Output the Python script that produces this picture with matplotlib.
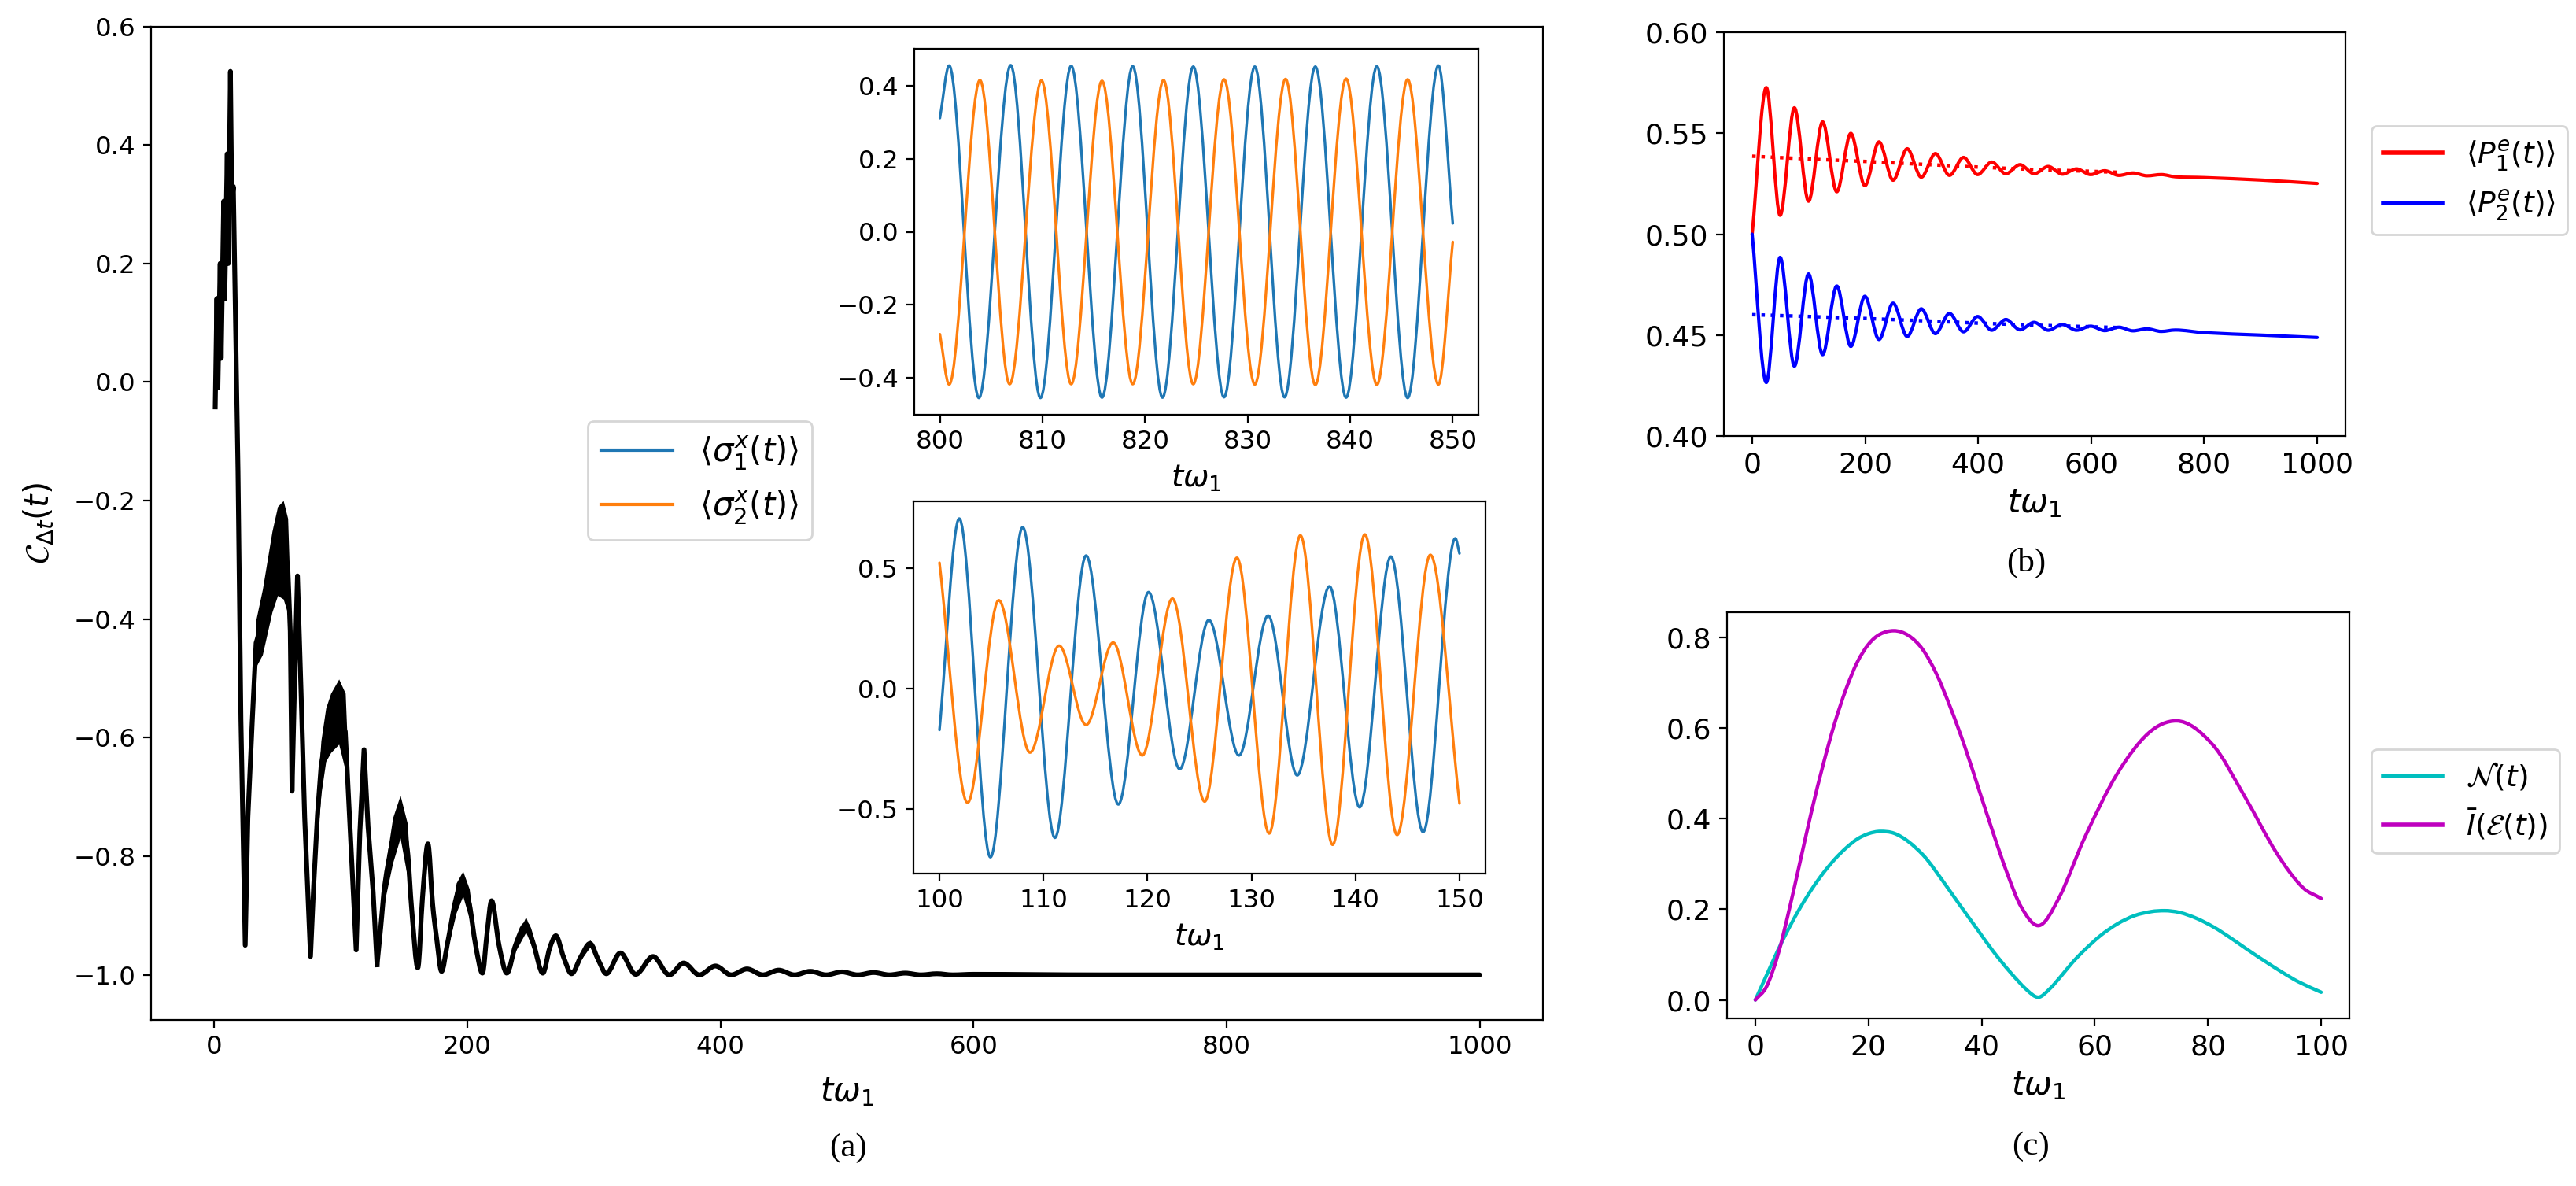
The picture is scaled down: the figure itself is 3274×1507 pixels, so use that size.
import numpy as np
import matplotlib
matplotlib.use("Agg")
import matplotlib.pyplot as plt
from matplotlib.path import Path
from matplotlib.patches import PathPatch
from matplotlib.lines import Line2D

# ---------------- (a) main curve C_dt(t) ----------------
# centre of the trace and half-width of the fast-wiggle band
c_t = [0.7, 2.0, 2.8, 4.6, 5.4, 7.4, 8.2, 10.2, 11.0, 12.7, 13.8, 15.0, 18.7, 21.0, 24.4,
       26.5, 30.0, 33.0, 38.0, 45.6, 50.0, 54.5, 58.0, 60.0, 61.4, 63.5, 65.7, 68.5, 71.4, 76.0,
       78.5, 81.5, 84.3, 88.1, 92.0, 98.4, 103.5, 107.0, 112.1, 115.0, 118.3, 121.5, 125.5, 128.6,
       131.5, 134.6, 141.0, 146.9, 152.6, 156.0, 160.8, 164.5, 168.8, 172.5, 175.8, 179.6,
       184.0, 191.2, 196.4, 201.5, 206.5, 211.9, 215.5, 219.1, 225.0, 231.2,
       238.0, 246.2, 252.5, 259.6, 265.0, 269.9, 276.0, 282.3, 289.5, 296.9, 303.5, 309.8,
       320.9, 333.0, 346.7, 359.6, 370.9, 383.3, 396.0, 408.5, 421.0, 433.5, 446.0, 458.5,
       471.0, 483.5, 496.0, 508.5, 521.0, 533.5, 546.0, 558.5, 571.0, 583.5, 600.0, 700.0, 1000.0]
c_mid = [-0.042, 0.141, -0.010, 0.200, 0.040, 0.305, 0.140, 0.385, 0.200, 0.524, 0.300, 0.330, -0.150, -0.570, -0.950,
         -0.735, -0.570, -0.440, -0.405, -0.320, -0.285, -0.283, -0.310, -0.420, -0.690, -0.500, -0.327, -0.520, -0.735, -0.969,
         -0.850, -0.730, -0.650, -0.595, -0.575, -0.556, -0.590, -0.740, -0.958, -0.760, -0.620, -0.750, -0.860, -0.983,
         -0.920, -0.850, -0.773, -0.733, -0.790, -0.890, -0.988, -0.870, -0.779, -0.880, -0.940, -0.994,
         -0.950, -0.870, -0.846, -0.880, -0.950, -0.997, -0.930, -0.875, -0.950, -0.997,
         -0.950, -0.915, -0.950, -0.997, -0.955, -0.934, -0.970, -0.998, -0.970, -0.947, -0.975, -0.998,
         -0.963, -0.999, -0.969, -1.000, -0.980, -1.000, -0.985, -1.000, -0.990, -1.000, -0.992, -1.000,
         -0.994, -1.000, -0.995, -1.000, -0.996, -1.000, -0.997, -1.000, -0.998, -1.000, -0.999, -1.000, -1.000]
c_half = [0, 0, 0, 0, 0, 0, 0, 0, 0, 0, 0, 0, 0, 0, 0,
          0.050, 0.045, 0.040, 0.055, 0.068, 0.075, 0.083, 0.080, 0.060, 0, 0.020, 0, 0.015, 0.010, 0,
          0.020, 0.040, 0.045, 0.045, 0.050, 0.055, 0.065, 0.030, 0, 0.010, 0, 0.010, 0.010, 0,
          0.010, 0.025, 0.038, 0.036, 0.045, 0.020, 0, 0.010, 0, 0.010, 0.005, 0,
          0.010, 0.025, 0.021, 0.025, 0.010, 0, 0.005, 0, 0.005, 0,
          0.010, 0.013, 0.010, 0, 0.003, 0, 0.003, 0, 0.005, 0.006, 0.004, 0,
          0, 0, 0.003, 0, 0, 0, 0, 0, 0, 0, 0, 0,
          0, 0, 0, 0, 0, 0, 0, 0, 0, 0, 0, 0, 0]

# top inset: extrema of <sigma_x(t)> for t in [800, 850]
s1_late_t = [800.0, 800.9, 803.8, 806.9, 809.8, 812.8, 815.8, 818.8, 821.7, 824.7, 827.7,
             830.7, 833.6, 836.6, 839.6, 842.6, 845.6, 848.6, 850.0]
s1_late_v = [0.312, 0.456, -0.456, 0.457, -0.456, 0.455, -0.455, 0.454, -0.455, 0.453, -0.454,
             0.453, -0.454, 0.453, -0.455, 0.454, -0.456, 0.456, 0.023]
s2_late_t = [800.0, 800.9, 803.9, 806.8, 809.9, 812.8, 815.8, 818.8, 821.8, 824.7, 827.7,
             830.7, 833.7, 836.6, 839.6, 842.6, 845.6, 848.6, 850.0]
s2_late_v = [-0.281, -0.419, 0.416, -0.418, 0.415, -0.418, 0.414, -0.418, 0.416, -0.418, 0.418,
             -0.419, 0.419, -0.420, 0.420, -0.420, 0.418, -0.419, -0.028]

# bottom inset: extrema for t in [100, 150]
s1_early_t = [100.0, 101.9, 104.9, 108.0, 111.1, 114.1, 117.2, 120.1, 123.1, 125.9, 128.8,
              131.6, 134.4, 137.5, 140.4, 143.4, 146.5, 149.6, 150.0]
s1_early_v = [-0.172, 0.708, -0.702, 0.672, -0.621, 0.554, -0.482, 0.402, -0.335, 0.286, -0.278,
              0.304, -0.361, 0.426, -0.494, 0.550, -0.597, 0.626, 0.563]
s2_early_t = [100.0, 102.7, 105.7, 108.7, 111.5, 114.1, 116.7, 119.5, 122.4, 125.5, 128.6,
              131.7, 134.7, 137.8, 140.9, 144.0, 147.2, 150.0]
s2_early_v = [0.524, -0.475, 0.368, -0.266, 0.179, -0.151, 0.192, -0.278, 0.375, -0.470, 0.545,
              -0.603, 0.638, -0.650, 0.642, -0.609, 0.557, -0.478]

# ---------------- (b) excited-state populations ----------------
p_t = [0, 25.0, 49.5, 74.8, 99.8, 124.7, 149.7, 174.6, 199.5, 224.5, 249.4, 274.4, 299.3, 324.3,
       349.2, 374.1, 399.0, 424.0, 449.0, 474.0, 499.0, 524.0, 549.0, 574.0, 599.0, 624.0, 649.0,
       674.0, 699.0, 724.0, 749.0, 800.0, 900.0, 1000.0]
p1_v = [0.500, 0.5726, 0.5093, 0.5626, 0.5163, 0.5556, 0.5210, 0.5499, 0.5240, 0.5457, 0.5267,
        0.5423, 0.5282, 0.5399, 0.5291, 0.5380, 0.5295, 0.5357, 0.5299, 0.5344, 0.5299, 0.5335,
        0.5297, 0.5323, 0.5295, 0.5314, 0.5291, 0.5303, 0.5289, 0.5295, 0.5284, 0.5280, 0.5268, 0.5251]
p2_v = [0.500, 0.4265, 0.4885, 0.4346, 0.4803, 0.4403, 0.4743, 0.4444, 0.4692, 0.4478, 0.4658,
        0.4493, 0.4630, 0.4507, 0.4607, 0.4516, 0.4592, 0.4524, 0.4577, 0.4526, 0.4563, 0.4524,
        0.4552, 0.4524, 0.4544, 0.4522, 0.4539, 0.4521, 0.4531, 0.4518, 0.4525, 0.4512, 0.4500, 0.4488]
avg_t = [0, 100, 200, 300, 400, 500, 600, 650]
p1_avg = [0.5386, 0.5372, 0.5360, 0.5346, 0.5332, 0.5320, 0.5311, 0.5306]
p2_avg = [0.4601, 0.4592, 0.4582, 0.4571, 0.4559, 0.4549, 0.4541, 0.4537]

# ---------------- (c) negativity and mutual information ----------------
neg_t = [0, 2, 4, 6, 8, 10, 12, 14, 16, 18, 20, 22.1, 24.5, 27, 30, 33, 36, 39, 42, 45, 48, 50,
         52, 54, 56, 58, 61, 64, 67, 70, 72.3, 75, 78, 81, 84, 87, 90, 93, 96, 100]
neg_v = [0, 0.055, 0.110, 0.160, 0.205, 0.245, 0.280, 0.310, 0.335, 0.355, 0.367, 0.372, 0.368,
         0.350, 0.315, 0.265, 0.212, 0.160, 0.108, 0.062, 0.022, 0.006, 0.024, 0.052, 0.082, 0.108,
         0.142, 0.168, 0.186, 0.195, 0.197, 0.193, 0.180, 0.161, 0.137, 0.111, 0.086, 0.062, 0.040, 0.017]
mi_t = [0, 2, 4, 6, 8, 10, 12, 14, 16, 18, 20, 22, 24.5, 27, 29.5, 32, 34.5, 37, 39.5, 42, 44.5,
        47, 50, 53.7, 58.2, 63.9, 69.5, 74.4, 80.8, 86.5, 92.1, 96.6, 100]
mi_v = [0, 0.030, 0.100, 0.200, 0.310, 0.420, 0.520, 0.610, 0.685, 0.745, 0.785, 0.807, 0.815,
        0.805, 0.775, 0.720, 0.645, 0.560, 0.465, 0.370, 0.280, 0.205, 0.164, 0.226, 0.358, 0.498,
        0.589, 0.616, 0.564, 0.449, 0.325, 0.250, 0.224]


def smooth_path(x, y):
    """Cubic Bezier path through the given points (horizontal tangent at extrema)."""
    x = np.asarray(x, float)
    y = np.asarray(y, float)
    n = len(x)
    m = np.zeros(n)
    for i in range(n):
        if i == 0:
            m[i] = (y[1] - y[0]) / (x[1] - x[0])
        elif i == n - 1:
            m[i] = (y[-1] - y[-2]) / (x[-1] - x[-2])
        elif (y[i] - y[i - 1]) * (y[i + 1] - y[i]) <= 0:
            m[i] = 0.0
        else:
            m[i] = (y[i + 1] - y[i - 1]) / (x[i + 1] - x[i - 1])
    verts = [(x[0], y[0])]
    codes = [Path.MOVETO]
    for i in range(n - 1):
        h = (x[i + 1] - x[i]) / 3.0
        verts += [(x[i] + h, y[i] + m[i] * h), (x[i + 1] - h, y[i + 1] - m[i + 1] * h), (x[i + 1], y[i + 1])]
        codes += [Path.CURVE4] * 3
    return Path(verts, codes)


def draw_curve(ax, x, y, color, lw, ls='-'):
    ax.add_patch(PathPatch(smooth_path(x, y), facecolor='none', edgecolor=color, lw=lw,
                           linestyle=ls, joinstyle='round', capstyle='round'))


plt.rcParams['font.family'] = ['DejaVu Sans']
plt.rcParams['mathtext.fontset'] = 'dejavusans'

W, H = 3274, 1507
fig = plt.figure(figsize=(W / 200, H / 200), dpi=200)


def rect(x0, y0, x1, y1):
    return [x0 / W, 1 - y1 / H, (x1 - x0) / W, (y1 - y0) / H]


# ---- (a)
ax = fig.add_axes(rect(192, 33.5, 1961, 1296))
c_mid_arr = np.array(c_mid)
c_half_arr = np.array(c_half)
ax.fill_between(c_t, c_mid_arr - c_half_arr, c_mid_arr + c_half_arr, color='k', lw=0)
k = c_t.index(128.6)
ax.plot(c_t[:k + 1], c_mid[:k + 1], color='k', lw=2.2)
draw_curve(ax, c_t[k:], c_mid[k:], 'k', 2.2)
ax.set_xlim(-50, 1050)
ax.set_ylim(-1.076, 0.600)
ax.set_xticks(np.arange(0, 1001, 200))
ax.set_yticks(np.arange(-1.0, 0.61, 0.2))
ax.tick_params(labelsize=11.7)
ax.set_xlabel(r'$t\omega_1$', fontsize=15, labelpad=7)
ax.set_ylabel(r'$\mathcal{C}_{\Delta t}(t)$', fontsize=15, labelpad=8)
handles = [Line2D([], [], color='tab:blue', lw=1.5), Line2D([], [], color='tab:orange', lw=1.5)]
ax.legend(handles, [r'$\langle\sigma_1^x(t)\rangle$', r'$\langle\sigma_2^x(t)\rangle$'],
          loc='center left', bbox_to_anchor=(0.302, 0.543), fontsize=15, handlelength=2.2)

# top inset
ins1 = fig.add_axes(rect(1162, 62, 1879, 527))
draw_curve(ins1, s1_late_t, s1_late_v, 'tab:blue', 1.2)
draw_curve(ins1, s2_late_t, s2_late_v, 'tab:orange', 1.2)
ins1.set_xlim(797.5, 852.5)
ins1.set_ylim(-0.502, 0.502)
ins1.set_xticks(np.arange(800, 851, 10))
ins1.set_yticks([-0.4, -0.2, 0.0, 0.2, 0.4])
ins1.tick_params(labelsize=11.7)
ins1.set_xlabel(r'$t\omega_1$', fontsize=14)

# bottom inset
ins2 = fig.add_axes(rect(1161, 637, 1888, 1110))
draw_curve(ins2, s1_early_t, s1_early_v, 'tab:blue', 1.2)
draw_curve(ins2, s2_early_t, s2_early_v, 'tab:orange', 1.2)
ins2.set_xlim(97.5, 152.5)
ins2.set_ylim(-0.770, 0.780)
ins2.set_xticks(np.arange(100, 151, 10))
ins2.set_yticks([-0.5, 0.0, 0.5])
ins2.tick_params(labelsize=11.7)
ins2.set_xlabel(r'$t\omega_1$', fontsize=14)

# ---- (b)
axb = fig.add_axes(rect(2191, 41, 2981, 554))
draw_curve(axb, p_t, p1_v, 'red', 1.5)
draw_curve(axb, p_t, p2_v, 'blue', 1.5)
axb.plot(avg_t, p1_avg, color='red', ls=':', lw=1.6)
axb.plot(avg_t, p2_avg, color='blue', ls=':', lw=1.6)
axb.set_xlim(-50, 1050)
axb.set_ylim(0.40, 0.60)
axb.set_xticks(np.arange(0, 1001, 200))
axb.set_yticks([0.40, 0.45, 0.50, 0.55, 0.60])
axb.yaxis.set_major_formatter(matplotlib.ticker.FormatStrFormatter('%.2f'))
axb.tick_params(labelsize=13)
axb.set_xlabel(r'$t\omega_1$', fontsize=15)
hb = [Line2D([], [], color='red', lw=2), Line2D([], [], color='blue', lw=2)]
axb.legend(hb, [r'$\langle P_1^e(t)\rangle$', r'$\langle P_2^e(t)\rangle$'],
           loc='center left', bbox_to_anchor=(1.018, 0.633), fontsize=13.5)

# ---- (c)
axc = fig.add_axes(rect(2195, 778, 2986, 1294))
draw_curve(axc, neg_t, neg_v, 'c', 1.6)
draw_curve(axc, mi_t, mi_v, 'm', 1.6)
axc.set_xlim(-5, 105)
axc.set_ylim(-0.0407, 0.8557)
axc.set_xticks(np.arange(0, 101, 20))
axc.set_yticks([0.0, 0.2, 0.4, 0.6, 0.8])
axc.tick_params(labelsize=13)
axc.set_xlabel(r'$t\omega_1$', fontsize=15)
hc = [Line2D([], [], color='c', lw=2), Line2D([], [], color='m', lw=2)]
axc.legend(hc, [r'$\mathcal{N}(t)$', r'$\bar{I}(\mathcal{E}(t))$'],
           loc='center left', bbox_to_anchor=(1.012, 0.535), fontsize=13.5)

# panel tags
serif = ['Liberation Serif', 'DejaVu Serif']
fig.text(1078 / W, 1 - 1459 / H, '(a)', ha='center', va='center', fontsize=15.5, family=serif)
fig.text(2575 / W, 1 - 715 / H, '(b)', ha='center', va='center', fontsize=15.5, family=serif)
fig.text(2581 / W, 1 - 1457 / H, '(c)', ha='center', va='center', fontsize=15.5, family=serif)

fig.savefig('out.png', dpi=200)
